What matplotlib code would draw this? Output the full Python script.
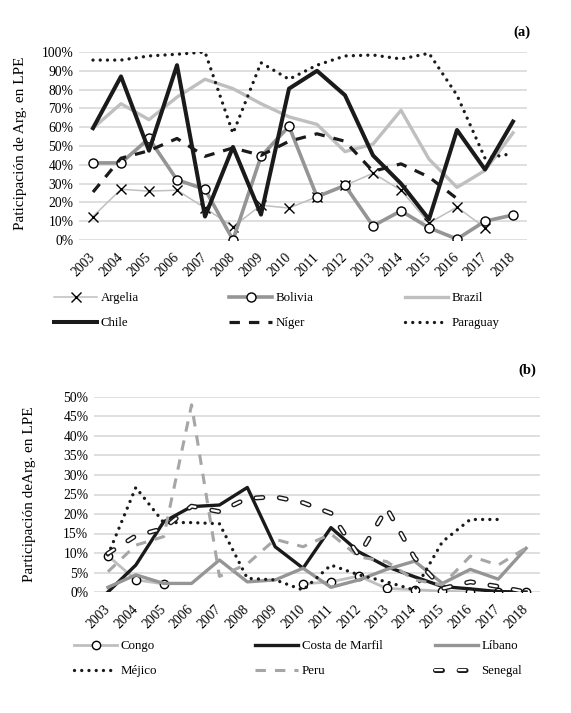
import numpy as np
import matplotlib
matplotlib.use("Agg")
import matplotlib.pyplot as plt
from matplotlib.legend_handler import HandlerTuple

plt.rcParams['font.family'] = ['Liberation Serif', 'DejaVu Serif']
plt.rcParams['lines.scale_dashes'] = False

nan = np.nan
years = [str(y) for y in range(2003, 2019)]

# --- panel (a) data, % ---
argelia = [12.5, 27, 26, 26.5, 17, 7, 18.5, 17, 23, 29, 35.5, 26.5, 9, 17.5, 6.5, nan]
bolivia = [41, 41, 54, 32, 27, 0, 44.5, 60.5, 23, 29, 7.5, 15.5, 6.5, 0.5, 10, 13.3]
brazil = [59.5, 72.5, 64, 76, 85.5, 80.5, 72.5, 65.5, 61.5, 47, 51, 69, 43, 28, 37, 57]
chile = [59.5, 87, 47.5, 93, 12.5, 49.5, 13.5, 80.5, 90, 77, 45, 30, 11, 58.5, 37.5, 63]
niger = [25.5, 43.5, 47.5, 54, 44.5, 49, 45, 52.5, 56.5, 52.5, 36.5, 40.5, 33.5, 22, nan, nan]
paraguay = [95.7, 95.7, 97.9, 98.8, 100, 56.7, 94.3, 85.5, 93, 97.9, 98.4, 96.3, 99.3, 77, 43.5, 46]

# --- panel (b) data, % ---
congo = [9.3, 3.1, 2.1, nan, nan, nan, nan, 2.1, 2.6, 4.1, 0.9, 0.6, 0.2, 0, 0, 0]
costa = [0, 6.9, 18, 21.9, 22.3, 26.8, 11.6, 6.1, 16.5, 10.3, 6.5, 3.9, 1.4, 0.8, 0.1, 0]
libano = [1.2, 4.4, 2.2, 2.2, 8.2, 2.6, 3.1, 6.1, 1.2, 3.1, 5.8, 7.9, 2.2, 5.8, 3.3, 11.2]
mejico = [9.5, 26.8, 17.8, 17.8, 17.5, 3.5, 3.1, 0.5, 6.9, 4.4, 2.6, 0.5, 12.9, 18.6, 18.6, nan]
peru = [5.2, 12, 14.2, 48, 4, 7.2, 13.5, 11.6, 14.9, 9, 7.8, 3.1, 1.8, 9.2, 6.9, 11.3]
senegal = [9.9, 14.4, 16.3, 22, 20.6, 24, 24.4, 22.9, 20.2, 9.3, 21.5, 8.8, 0.9, 2.6, 1.4, 0]

x = np.arange(len(years))

W, H = 571, 713
fig = plt.figure(figsize=(W / 100, H / 100), dpi=100)

def px_rect(left, top, right, bottom):
    return [left / W, 1 - bottom / H, (right - left) / W, (bottom - top) / H]

grid_col = '#d9d9d9'
light = '#bfbfbf'
mid = '#959595'
dark = '#1a1a1a'
dotted = (0, (0.01, 5.2))
dashed = (0, (7.5, 6.5))


def style_axes(ax, ymax, step):
    ax.set_xlim(-0.5, len(years) - 0.5)
    ax.set_ylim(0, ymax)
    ax.set_yticks(np.arange(0, ymax + 0.1, step))
    ax.set_yticklabels([f"{int(v)}%" for v in np.arange(0, ymax + 0.1, step)])
    ax.set_xticks(x)
    ax.set_xticklabels(years, rotation=45, ha='right', va='center',
                       rotation_mode='anchor')
    ax.tick_params(length=0, labelsize=9.8, colors='black')
    ax.tick_params(axis='x', pad=11)
    ax.tick_params(axis='y', pad=4)
    for s in ax.spines.values():
        s.set_visible(False)
    ax.grid(axis='y', color=grid_col, lw=1.2)
    ax.set_axisbelow(True)


def column_legend(handles, labels, x_px, y_px, handler_map=None):
    leg = fig.legend(handles, labels, loc='upper left',
                     bbox_to_anchor=(x_px / W, 1 - y_px / H),
                     frameon=False, fontsize=9.3, handlelength=3.35,
                     handletextpad=0.25, labelspacing=1.03, borderpad=0,
                     borderaxespad=0, handler_map=handler_map)
    return leg


# ================= panel (a) =================
ax1 = fig.add_axes(px_rect(79, 52, 527, 240))
style_axes(ax1, 100, 10)

l_arg, = ax1.plot(x, argelia, color=light, lw=1.1, marker='x', ms=6.5,
                  mec='black', mew=1.0)
l_bol, = ax1.plot(x, bolivia, color=mid, lw=2.6, marker='o', ms=6.5,
                  mfc='white', mec='black', mew=1.0)
l_bra, = ax1.plot(x, brazil, color=light, lw=2.4)
l_chi, = ax1.plot(x, chile, color=dark, lw=2.9)
l_nig, = ax1.plot(x, niger, color=dark, lw=2.3, ls=dashed)
l_par, = ax1.plot(x, paraguay, color=dark, lw=2.4, ls=dotted,
                  dash_capstyle='round')

fig.text(21 / W, 1 - 143 / H, 'Paticipación de Arg. en LPE', rotation=90,
         ha='center', va='center', fontsize=11)
fig.text(522 / W, 1 - 32 / H, '(a)', ha='center', va='center',
         fontsize=10.5, fontweight='bold')

column_legend([l_arg, l_chi], ['Argelia', 'Chile'], 54, 292)
column_legend([l_bol, l_nig], ['Bolivia', 'Níger'], 229, 292)
column_legend([l_bra, l_par], ['Brazil', 'Paraguay'], 405, 292)

# ================= panel (b) =================
ax2 = fig.add_axes(px_rect(94, 397, 540, 592))
style_axes(ax2, 50, 5)

l_con, = ax2.plot(x, congo, color=light, lw=2.0, marker='o', ms=6,
                  mfc='white', mec='black', mew=1.0)
l_cos, = ax2.plot(x, costa, color=dark, lw=2.4)
l_lib, = ax2.plot(x, libano, color=mid, lw=2.4)
l_mej, = ax2.plot(x, mejico, color=dark, lw=2.4, ls=dotted,
                  dash_capstyle='round')
l_per, = ax2.plot(x, peru, color='#a6a6a6', lw=2.2, ls=dashed)
sen_dash = (0, (5, 12))
l_sen_out, = ax2.plot(x, senegal, color=dark, lw=3.6, ls=sen_dash,
                      dash_capstyle='round')
l_sen_in, = ax2.plot(x, senegal, color='white', lw=1.6, ls=sen_dash,
                     dash_capstyle='round')

fig.text(30 / W, 1 - 494 / H, 'Participación deArg. en LPE', rotation=90,
         ha='center', va='center', fontsize=11)
fig.text(527 / W, 1 - 370 / H, '(b)', ha='center', va='center',
         fontsize=10.5, fontweight='bold')

column_legend([l_con, l_mej], ['Congo', 'Méjico'], 74, 640)
column_legend([l_cos, l_per], ['Costa de Marfil', 'Peru'], 255, 640)
column_legend([l_lib, (l_sen_out, l_sen_in)], ['Líbano', 'Senegal'], 435, 640,
              handler_map={tuple: HandlerTuple(ndivide=1)})

fig.savefig('out.png', dpi=100)
